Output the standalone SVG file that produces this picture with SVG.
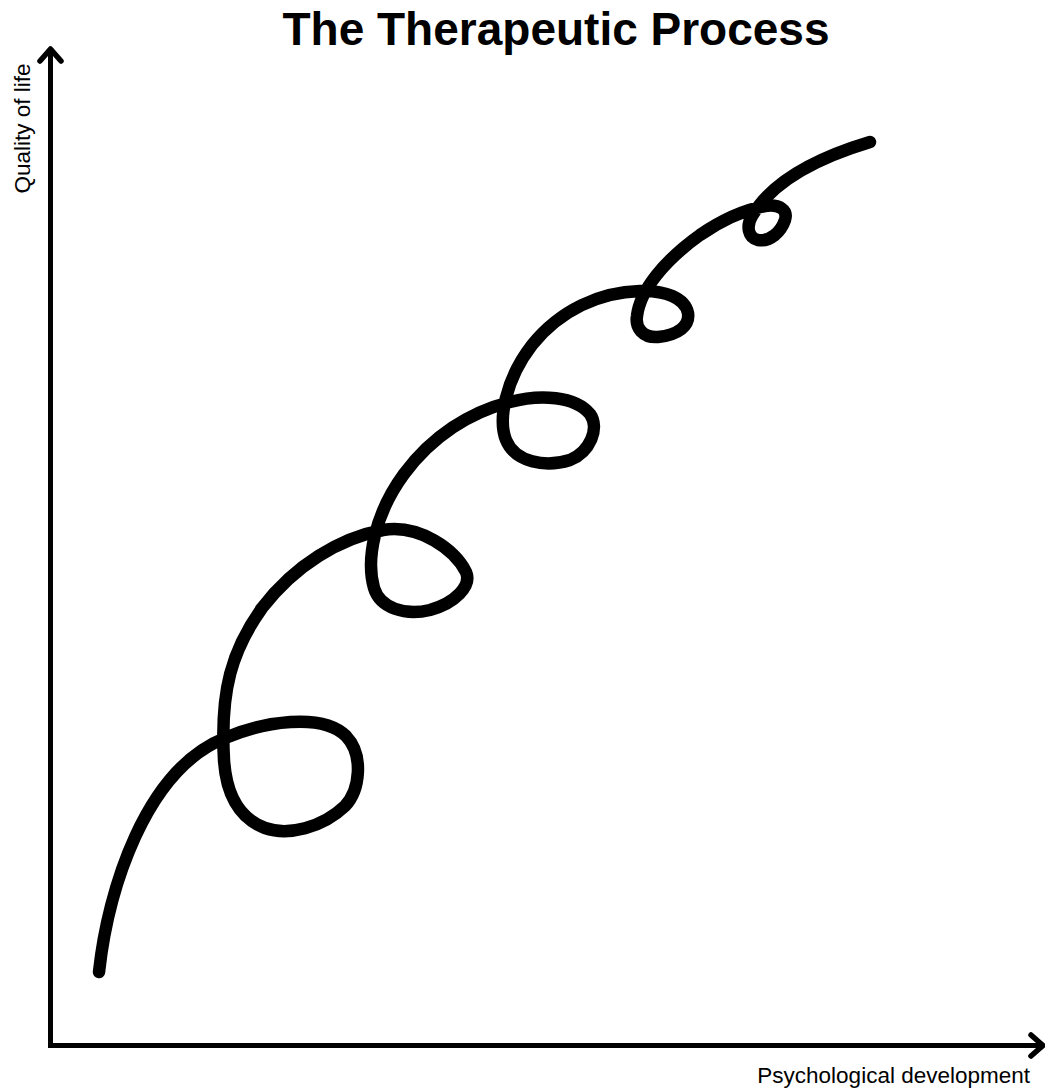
<svg xmlns="http://www.w3.org/2000/svg" width="1045" height="1088" viewBox="0 0 1045 1088">
<style>
.axis{fill:none;stroke:#000;stroke-width:5;}
.head{fill:none;stroke:#000;stroke-width:5.5;stroke-linecap:round;stroke-linejoin:round;}
.curve{fill:none;stroke:#000;stroke-width:12.5;stroke-linecap:round;stroke-linejoin:round;}
.lbl{font-family:"Liberation Sans",Arial,sans-serif;font-size:22.5px;fill:#000;}
.title{font-family:"Liberation Sans",Arial,sans-serif;font-size:46px;font-weight:bold;fill:#000;}
</style>
<rect width="1045" height="1088" fill="#fff"/>
<text class="title" x="556" y="45" text-anchor="middle">The Therapeutic Process</text>
<g id="axes">
<path class="axis" d="M50.5,50 V1045.5 H1042"/>
<path class="head" d="M40,61 L50.5,49 L61,61"/>
<path class="head" d="M1031,1035 L1043,1045.5 L1031,1056"/>
</g>
<text class="lbl" x="30" y="128.5" text-anchor="middle" transform="rotate(-90 30 128.5)">Quality of life</text>
<text class="lbl" x="1030" y="1083" text-anchor="end">Psychological development</text>
<g id="spiral">
<path class="curve" d="M99,972 C108,890 145,770 225,738 C262,722 322,712 346,736 C364,755 360,790 345,806 C322,828 288,836 265,828 C238,818 226,792 224,760 C220,690 232,650 262,608 C295,565 340,538 383,530 C420,524 455,550 466,572 C472,586 455,603 430,610 C405,616 380,608 374,588 C366,560 374,515 404,474 C432,436 470,412 510,402 C540,394 575,396 590,414 C600,428 590,452 570,460 C545,468 515,462 506,440 C498,420 505,380 532,345 C560,310 600,292 640,291 C665,290 685,298 688,313 C690,326 678,335 658,337 C643,338 635,328 637,316 C640,290 665,260 700,235 C725,218 745,210 765,206 C780,204 788,210 785,220 C781,232 770,242 758,240 C748,238 746,226 752,216 C770,185 810,160 870,142"/>
</g>
</svg>
